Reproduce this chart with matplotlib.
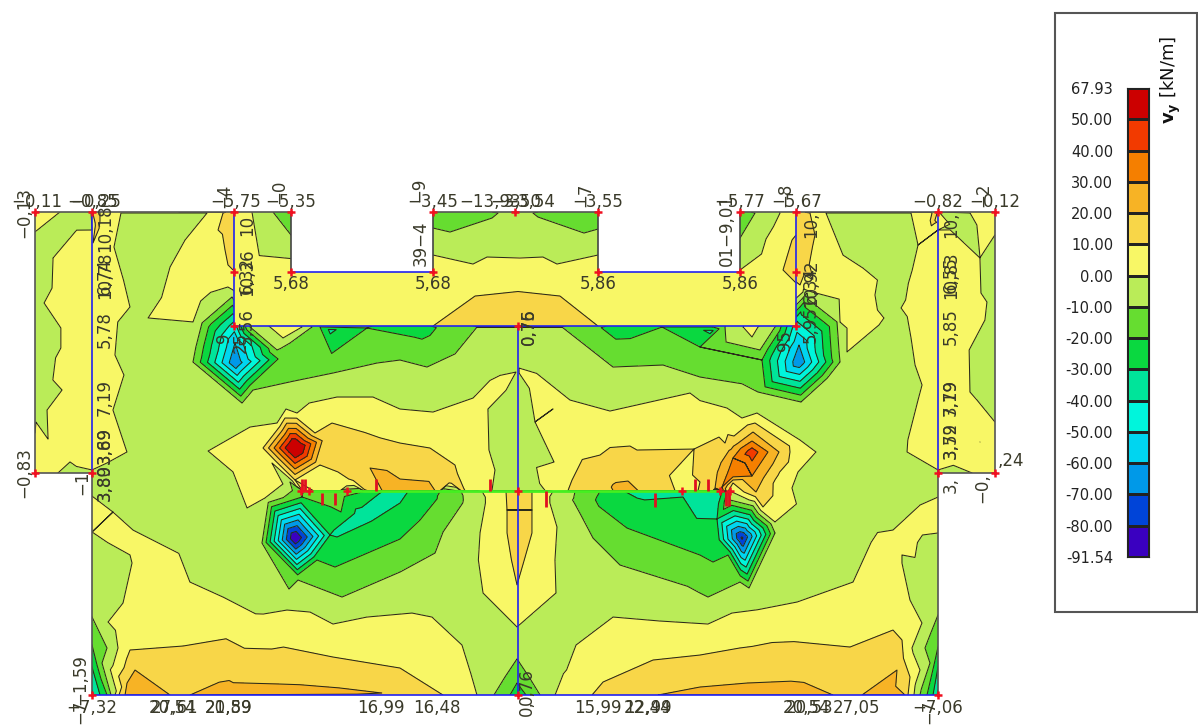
import numpy as np
import matplotlib
matplotlib.use('Agg')
import matplotlib.pyplot as plt
from matplotlib.colors import BoundaryNorm, ListedColormap
from matplotlib.patches import Polygon, Rectangle
from matplotlib.tri import Triangulation

# band limits and colours of the legend, bottom to top
levels = [-91.54, -80, -70, -60, -50, -40, -30, -20, -10, 0, 10, 20, 30, 40, 50, 67.93]
level_labels = ['-91.54', '-80.00', '-70.00', '-60.00', '-50.00', '-40.00', '-30.00', '-20.00',
                '-10.00', '0.00', '10.00', '20.00', '30.00', '40.00', '50.00', '67.93']
colors = ['#3A00C0', '#0044D8', '#0099E8', '#00D5F0', '#00F5DC', '#00E49A', '#0AD840', '#66DD30',
          '#BAEC58', '#F8F766', '#F8D648', '#F7B325', '#F57F00', '#F23A00', '#CC0000']

# model outline
block_outline = [(234, 212), (291, 212), (291, 272), (433, 272), (433, 212), (598, 212), (598, 272),
                 (740, 272), (740, 212), (796, 212), (796, 326), (234, 326)]
main_outline = [(35, 212), (234, 212), (234, 326), (796, 326), (796, 212), (995, 212), (995, 473),
                (938, 473), (938, 695), (92, 695), (92, 473), (35, 473)]

# --- upper block field (x, y, value) ---
block_x = [234, 234, 234, 252, 291, 273, 291, 291, 291, 433, 433, 433, 450, 492, 498, 515, 533, 538, 584,
           598, 598, 598, 598, 433, 473, 487, 520, 543, 557, 518, 475, 560, 518, 518, 475, 560, 433, 598,
           740, 740, 755, 740, 780, 740, 783, 792, 796, 796, 793, 796, 796, 796, 291, 740]
block_y = [212, 272, 326, 212, 272, 212, 235, 212, 326, 212, 228, 272, 232, 218, 213, 212, 213, 217, 233,
           229, 212, 272, 326, 255, 264, 257, 258, 257, 264, 272, 296, 296, 310, 326, 326, 326, 326, 255,
           212, 238, 213, 272, 213, 270, 270, 240, 235, 283, 270, 260, 212, 326, 326, 326]
block_v = [6, 8, 5.6, 0, 5.7, -10, -10, -14, 5, -15, -10, 5.7, -10, -10, -10, -8, -10, -10, -10,
           -10, -15, 5.9, 10, 0, 0, 0, 0, 0, 0, 5.8, 10, 10, 14, 15, 14, 14, 10, 0,
           -14, -10, -10, 5.9, 0, 0, 10, 10, 10, 10, 13, 14, 6, 5.6, 5, 5]

# --- wall and slab field: points read on each contour line ---
line_0_x = [35, 60, 91, 92, 53, 52, 44, 62, 47, 36, 121, 114, 130, 115, 124, 113, 127, 107, 92, 48, 58,
            207, 170, 148, 188, 193, 233, 208, 233, 247, 265, 272, 283, 250, 277, 286, 297, 337, 373, 400,
            433, 473, 516, 488, 500, 489, 495, 519, 570, 610, 650, 690, 727, 742, 757, 800, 816, 798, 792,
            775, 732, 519, 553, 535, 554, 826, 843, 863, 884, 847, 840, 812, 803, 911, 918, 901, 915, 912,
            922, 918, 907, 938, 939, 970, 995, 938, 980, 981, 987, 985, 970, 977, 995, 980, 972,
            92, 113, 133, 190, 223, 287, 310, 333, 367, 412, 432, 462, 477, 92, 130, 132, 123, 108, 118, 115,
            480, 483, 517, 556, 555, 557, 555, 576, 613, 660, 708, 732, 797, 853, 893, 920, 938,
            938, 902, 902, 910, 922, 912, 914, 270, 302, 283, 743, 758, 752]
line_0_y = [232, 212, 212, 230, 258, 288, 303, 390, 410, 422, 213, 247, 307, 355, 375, 410, 452, 463, 470, 439, 473,
            213, 267, 318, 348, 322, 290, 451, 472, 508, 498, 463, 484, 427, 423, 409, 413, 397, 397, 409,
            412, 398, 372, 409, 423, 450, 470, 368, 400, 411, 402, 393, 408, 418, 413, 440, 452, 472, 488,
            522, 492, 373, 409, 422, 462, 213, 255, 268, 318, 352, 322, 292, 292, 213, 245, 308, 365, 372,
            385, 400, 452, 470, 212, 213, 235, 230, 258, 293, 302, 320, 392, 400, 422, 442, 473,
            496, 512, 530, 582, 597, 610, 612, 624, 617, 613, 617, 645, 695, 532, 555, 563, 603, 622, 648, 695,
            533, 593, 627, 593, 560, 527, 695, 645, 617, 621, 624, 613, 602, 582, 530, 505, 497,
            533, 555, 563, 600, 623, 648, 695, 327, 327, 338, 327, 327, 337]

line_10_x = [93, 100, 223, 218, 233, 263, 285, 315, 332, 400, 430, 338, 320, 295, 694, 719, 725, 755, 790,
             763, 733, 700, 630, 637, 572, 810, 815, 800, 932, 938, 119, 130, 138, 183, 333, 400, 443,
             592, 603, 653, 700, 850, 893, 902, 910, 908, 507, 517, 532, 507, 532]
line_10_y = [243, 212, 213, 230, 270, 448, 418, 433, 423, 443, 448, 472, 465, 480, 449, 437, 443, 423, 452,
             507, 483, 482, 446, 450, 480, 213, 235, 285, 213, 242, 695, 650, 630, 646, 657, 668, 695,
             695, 682, 660, 655, 647, 630, 640, 677, 695, 533, 585, 533, 510, 510]

line_20_x = [342, 370, 400, 715, 753, 779, 756, 733, 628, 125, 127, 135, 170, 190, 280, 382,
             658, 700, 747, 833, 862, 897, 905]
line_20_y = [459, 468, 479, 488, 432, 452, 492, 480, 481, 695, 683, 670, 695, 695, 684, 693,
             695, 687, 683, 695, 695, 670, 695]

line_30_x = [733, 752, 768, 752, 745, 722]
line_30_y = [458, 441, 452, 476, 463, 487]

line_m10_x = [193, 202, 232, 242, 253, 333, 377, 400, 427, 477, 250, 277, 312, 262, 289, 290, 298, 342, 400,
              435, 443, 517, 505, 529, 494, 540, 111, 92, 107, 102, 562, 613, 663, 700, 758, 801, 840, 837, 807, 725,
              760, 775, 593, 620, 700, 708, 740, 749, 775, 730, 938, 925, 930, 920]
line_m10_y = [362, 323, 297, 403, 390, 373, 363, 360, 367, 327, 327, 350, 327, 543, 589, 482, 580, 597, 572,
              553, 532, 659, 677, 677, 695, 695, 695, 617, 648, 663, 327, 367, 365, 377, 392, 402, 362, 322, 293, 327,
              350, 327, 538, 565, 593, 597, 582, 588, 533, 500, 615, 648, 663, 695]

line_m20_x = [278, 320, 367, 317, 335, 400, 420, 302, 341, 92, 107, 700, 662, 713, 762, 627, 700, 713, 728,
              938, 927, 517, 510, 526]
line_m20_y = [359, 327, 328, 560, 567, 539, 520, 497, 512, 645, 695, 347, 327, 327, 360, 528, 555, 562, 555,
              647, 695, 683, 695, 695]

line_m30_x = [334, 337, 400, 637, 683, 717, 92, 100, 938, 933]
line_m30_y = [530, 537, 503, 498, 497, 519, 667, 695, 667, 695]

# peaks and spots between the contour lines
spot_x = [235, 235, 234, 295, 295, 330, 799, 799, 796, 742, 717, 752, 733, 92, 938, 518,
          420, 617, 330, 712, 283, 750, 360, 395, 695, 715, 518, 518, 332, 325,
          35, 93, 233, 797, 937, 995, 110, 96, 228, 230, 805, 803, 934,
          92, 92, 92, 92, 92, 70, 112, 75, 100, 70, 35, 45, 92, 70, 938, 955,
          215, 200, 178, 225, 240, 255, 258,
          480, 500, 535, 565, 560, 600, 650, 700, 725, 450, 470, 440, 380, 560, 555,
          783, 780, 755,
          92, 115, 130, 140, 150, 118, 125, 938, 915, 905, 895, 885, 880, 910, 908,
          860, 865, 850, 825, 840, 820,
          938, 938, 938, 938, 950, 925, 960, 930, 950, 960, 985, 990, 990, 995, 985,
          380, 440, 350, 620, 600, 650, 700, 715, 730, 395, 145, 290, 230, 340, 745, 700, 790, 890, 180, 848,
          494, 542, 495, 540]
spot_y = [363, 343, 326, 448, 538, 535, 362, 345, 326, 538, 540, 452, 475, 695, 695, 695,
          328, 328, 330, 331, 327, 327, 514, 495, 500, 505, 530, 560, 453, 440,
          212, 212, 212, 212, 212, 212, 212, 225, 230, 255, 245, 270, 222,
          260, 310, 360, 410, 450, 280, 280, 380, 380, 440, 473, 460, 473, 473, 473, 473,
          240, 290, 300, 280, 450, 480, 497,
          403, 388, 385, 412, 405, 430, 420, 420, 420, 430, 460, 425, 420, 440, 470,
          498, 480, 500,
          515, 535, 545, 570, 600, 625, 645, 515, 530, 545, 545, 570, 610, 625, 650,
          290, 320, 330, 250, 290, 225,
          270, 300, 350, 400, 300, 300, 300, 440, 450, 410, 460, 440, 432, 473, 225,
          460, 470, 445, 465, 475, 470, 470, 465, 445, 483, 690, 693, 693, 694, 693, 693, 693, 690, 695, 695,
          510, 510, 560, 560]
spot_v = [-68, -60, -45, 67.9, -91.5, -30, -68, -60, -45, -82, -25, 46, 36, -42, -42, -28,
          -24, -24, -32, -32, 5, 5, -34, -34, -35, -36, 14, 12, 15, 15,
          3, 13, 14, 14, 13, 3, 5, 12, 13, 12, 13, 12, 12,
          6, 6, 6, 7, 5, 4, 4, 5, 5, 4, 3, 4, -2, -2, -2, -2,
          6, 5, 4, 7, 4, 5, 3,
          3, 2, 2, 4, 3, 5, 6, 5, 3, 5, 5, 4, 6, 5, 4,
          4, 6, 3,
          4, 4, 4, 5, 6, 3, 4, 4, 4, 4, 4, 5, 6, 3, 3,
          4, 4, 3, 5, 4, 6,
          6, 6, 6, 6, 5, 5, 4, 5, 4, 4, 3, 3, 3, 3, 1.5,
          15, 15, 14, 15, 14, 15, 14, 15, 15, 26, 25, 23, 23, 22, 23, 23, 23, 24, 18, 18,
          5, 5, 5, 5]

# light green areas between the yellow ones
flat_green_x = [135, 165, 135, 145, 135, 160, 140, 170, 170, 150, 190, 130, 170, 210, 240, 200, 40, 40, 45, 35, 35, 70,
                518, 518, 518, 518, 370, 430, 470, 300, 500, 540, 600, 650, 700, 730,
                260, 350, 430, 465, 465, 475, 482, 552, 560, 570, 570, 600, 680, 760, 820, 860, 810, 830, 860,
                890, 895, 830, 880, 880, 895, 890, 893, 900, 100, 100, 925, 925, 930, 955, 995, 995, 990, 990, 985]
flat_green_y = [240, 240, 280, 295, 330, 360, 400, 380, 420, 450, 440, 480, 500, 540, 560, 500, 270, 340, 390, 300, 380, 225,
                395, 430, 465, 480, 380, 385, 365, 395, 350, 350, 385, 385, 385, 398,
                600, 610, 590, 560, 600, 640, 665, 665, 620, 560, 520, 590, 605, 595, 570, 520, 510, 460, 410,
                440, 480, 380, 370, 240, 270, 300, 330, 400, 550, 590, 570, 600, 540, 225, 300, 380, 270, 350, 390]

# more readings close over and under the beam line
near_beam_x = [350, 450, 475, 585, 615, 650, 685, 705, 330, 440, 461, 553, 482, 575, 600, 627]
near_beam_y = [483, 482, 480, 482, 486, 480, 480, 482, 500, 500, 500, 500, 500, 500, 500, 500]
near_beam_v = [8, 13, 6, 13, 21, 14, 6, 13, -17, -19, -11, -2, -2, -11, -22, -28]

# values just above and just below the beam line, the field jumps there
beam_x = [303, 313, 330, 340, 364, 367, 382, 395, 408, 420, 435, 440, 461, 465, 482, 492, 506, 518,
          532, 545, 553, 568, 575, 590, 600, 613, 625, 638, 650, 675, 685, 698, 713, 722]
beam_top_v = [12, 10, 8, 6, 9.5, 10, 20, 24, 26, 24, 20, 18, 11, 10, 3, 0, -2, -3,
              -2, 0, 4, 10, 12, 15, 17, 20, 26, 20, 16, 10, 6, 10, 20, 35]
beam_low_v = [-20, -18, -15, -16, -20, -21, -30, -35, -30, -26, -21, -20, -10, -9, 0, 4, 10, 15,
              10, 3, 0, -6, -10, -16, -20, -25, -30, -31, -33, -35, -35, -35, -32, -30]

# model lines and nodes
blue_lines = [([92, 92], [212, 473]), ([234, 234], [212, 326]), ([796, 796], [212, 326]), ([938, 938], [212, 473]),
              ([518, 518], [326, 695]), ([234, 796], [326, 326]), ([291, 433], [272, 272]), ([598, 740], [272, 272]),
              ([92, 938], [695, 695])]
node_x = [35, 92, 234, 291, 433, 515, 598, 740, 796, 938, 995, 234, 291, 433, 598, 740, 796, 234, 518, 796,
          35, 92, 938, 995, 92, 518, 938, 301, 309, 347, 518, 682, 720, 730]
node_y = [212, 212, 212, 212, 212, 212, 212, 212, 212, 212, 212, 272, 272, 272, 272, 272, 272, 326, 326, 326,
          473, 473, 473, 473, 695, 695, 695, 491, 491, 491, 491, 491, 491, 491]
stem_x = [302, 305, 322, 335, 376, 490, 546, 655, 695, 708, 726, 729]
stem_y0 = [479, 479, 493, 493, 479, 479, 491, 493, 479, 479, 491, 491]
stem_y1 = [491, 491, 505, 505, 491, 491, 507, 507, 491, 491, 506, 506]

# value labels on the model, horizontal ones
flat_text = ['−0,11', '−0,85', '−0,25', '−5,75', '−5,35', '−3,45', '−13,93', '−3,50', '−3,54', '−3,55',
             '−5,77', '−5,67', '−0,82', '−0,12', '5,68', '5,68', '5,86', '5,86', ',24',
             '−7,32', '20,54', '27,61', '20,89', '21,59', '16,99', '16,48', '15,99', '12,99', '22,44',
             '20,54', '20,53', '27,05', '−7,06']
flat_x = [37, 93, 96, 236, 291, 433, 490, 516, 530, 598, 740, 797, 938, 995, 291, 433, 598, 740, 1011,
          92, 172, 175, 229, 229, 381, 437, 598, 648, 648, 806, 810, 857, 938]
flat_y = [202, 202, 202, 202, 202, 202, 202, 202, 202, 202, 202, 202, 202, 202, 284, 284, 284, 284, 461,
          708, 708, 708, 708, 708, 708, 708, 708, 708, 708, 708, 708, 708, 708]
# rotated ones
up_text = ['−0,13', '−4', '−0', '−9', '−7', '01−9,01', '−8', '−2', '39−4',
           '10,18', '10,78', '6,74', '5,78', '7,19', '3,89', '3,69', '3,80', '3,89',
           '10', '10,36', '6,32', '5,56', '9', '25', '10,', '10,92', '6,34', '5,95', '95',
           '10,', '10,83', '6,55', '5,85', '3,79', '7,19', '3,59', '3,72', '3,',
           '−0,83', '−1', '−1,59', '−7', '−7', '−0,', '0,76', '0,75', '0,76', '0,']
up_x = [24, 224, 279, 419, 585, 727, 785, 983, 421,
        105, 105, 105, 105, 105, 105, 105, 105, 105,
        247, 247, 247, 247, 224, 241, 811, 811, 811, 811, 785,
        951, 951, 951, 951, 951, 951, 951, 951, 951,
        24, 82, 80, 80, 929, 982, 529, 529, 527, 527]
up_y = [212, 196, 192, 190, 195, 230, 195, 195, 243,
        228, 275, 277, 330, 397, 445, 445, 482, 482,
        225, 272, 275, 327, 338, 342, 225, 283, 285, 325, 340,
        225, 275, 275, 327, 397, 397, 440, 440, 485,
        473, 483, 680, 712, 712, 488, 327, 327, 687, 708]

cmap = ListedColormap(colors)
norm = BoundaryNorm(levels, cmap.N)

fig = plt.figure(figsize=(11.98, 7.25), dpi=100)
ax = fig.add_axes([0, 0, 1, 1])
ax.set_xlim(0, 1198)
ax.set_ylim(725, 0)
ax.axis('off')


def draw_field(x, y, v, outline):
    # drop repeated points, the triangulation does not want them
    seen = {}
    for a, b, c in zip(x, y, v):
        seen.setdefault((float(a), float(b)), float(c))
    px = np.array([k[0] for k in seen])
    py = np.array([k[1] for k in seen])
    # a point read on a line counts for the band under it
    pv = np.array(list(seen.values())) - 0.01
    tri = Triangulation(px, py)
    clip = Polygon(outline, closed=True, transform=ax.transData, fc='none', ec='none')
    ax.add_patch(clip)
    cf = ax.tricontourf(tri, pv, levels=levels, cmap=cmap, norm=norm, zorder=1)
    cf.set_clip_path(clip)
    cl = ax.tricontour(tri, pv, levels=levels[1:-1], colors='#2a2a1a', linewidths=0.75,
                       linestyles='solid', zorder=2)
    cl.set_clip_path(clip)


draw_field(block_x, block_y, block_v, block_outline)

main_x = (line_0_x + line_10_x + line_20_x + line_30_x + line_m10_x + line_m20_x + line_m30_x + spot_x
          + flat_green_x + near_beam_x + beam_x + beam_x)
main_y = (line_0_y + line_10_y + line_20_y + line_30_y + line_m10_y + line_m20_y + line_m30_y + spot_y
          + flat_green_y + near_beam_y + [490.5] * len(beam_x) + [491.5] * len(beam_x))
main_v = ([0] * len(line_0_x) + [10] * len(line_10_x) + [20] * len(line_20_x) + [30] * len(line_30_x)
          + [-10] * len(line_m10_x) + [-20] * len(line_m20_x) + [-30] * len(line_m30_x) + spot_v
          + [-4] * len(flat_green_x) + near_beam_v + beam_top_v + beam_low_v)
draw_field(main_x, main_y, main_v, main_outline)

# outline, inner lines
ax.plot([35, 291], [212, 212], color='#555555', lw=1.2, zorder=3)
ax.plot([433, 598], [212, 212], color='#555555', lw=1.2, zorder=3)
ax.plot([740, 995], [212, 212], color='#555555', lw=1.2, zorder=3)
ax.plot([35, 35, 92, 92], [212, 473, 473, 695], color='#555555', lw=1.2, zorder=3)
ax.plot([995, 995, 938, 938], [212, 473, 473, 695], color='#555555', lw=1.2, zorder=3)
for sx in [291, 433, 598, 740]:
    ax.plot([sx, sx], [212, 272], color='#444444', lw=1.2, zorder=3)
for bx, by in blue_lines:
    ax.plot(bx, by, color='#2222f0', lw=1.2, zorder=4)
ax.plot([303, 720], [491, 491], color='#44f020', lw=2, zorder=4)
ax.vlines(stem_x, stem_y0, stem_y1, color='#e01020', lw=2, zorder=5)
ax.plot(node_x, node_y, ls='none', marker='+', color='#f01020', ms=6, mew=1.8, zorder=6)

for t, tx, ty in zip(flat_text, flat_x, flat_y):
    ax.text(tx, ty, t, ha='center', va='center', fontsize=12, color='#3a3a2a', zorder=7)
for t, tx, ty in zip(up_text, up_x, up_y):
    ax.text(tx, ty, t, ha='center', va='center', fontsize=12, color='#3a3a2a', rotation=90, zorder=7)

# legend
ax.add_patch(Rectangle((1055, 13), 142, 599, fc='white', ec='#555555', lw=1.5, zorder=1))
bar = fig.add_axes([1127 / 1198, 1 - 557 / 725, 22 / 1198, 469 / 725])
edges = np.arange(len(levels))
bar.pcolormesh([0, 1], edges, np.arange(len(colors)).reshape(-1, 1), cmap=cmap, edgecolors='#222222', linewidth=0.8)
bar.set_xticks([])
bar.set_yticks(edges)
bar.set_yticklabels(level_labels, fontsize=10.5, color='#222222')
bar.tick_params(axis='y', length=0, pad=10)
for s in bar.spines.values():
    s.set_color('#222222')
    s.set_linewidth(0.8)
ax.text(1171, 80, r'$\mathbf{v_y}$ [kN/m]', rotation=90, ha='center', va='center', fontsize=13, color='#111111', zorder=3)

fig.savefig('out.png', dpi=100)
